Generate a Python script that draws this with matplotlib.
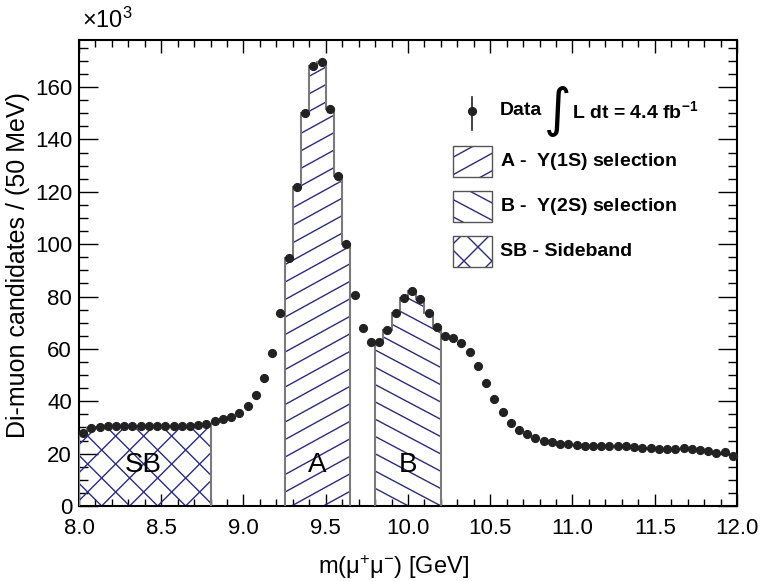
import numpy as np
import matplotlib
matplotlib.use("Agg")
import matplotlib.pyplot as plt
from matplotlib.collections import LineCollection
from matplotlib.patches import Rectangle
from matplotlib.ticker import MultipleLocator

plt.rcParams["font.family"] = ["Liberation Sans", "DejaVu Sans"]
plt.rcParams["mathtext.fontset"] = "custom"
plt.rcParams["mathtext.rm"] = "Liberation Sans"
plt.rcParams["mathtext.it"] = "Liberation Sans:italic"
plt.rcParams["mathtext.bf"] = "Liberation Sans:bold"
plt.rcParams["mathtext.default"] = "regular"

# di-muon mass spectrum, 50 MeV bins between 8 and 12 GeV, counts in units of 10^3
bin_edges = np.linspace(8.0, 12.0, 81)
counts = [
    27.8, 29.8, 30.3, 30.5, 30.6, 30.6, 30.6, 30.6, 30.6, 30.6,
    30.6, 30.5, 30.6, 30.6, 30.9, 31.5, 32.3, 33.1, 33.9, 35.4,
    38.2, 42.3, 48.7, 58.5, 73.8, 94.9, 121.9, 150.1, 168.2, 169.5,
    151.5, 126.1, 100.0, 80.4, 67.8, 62.7, 62.7, 67.2, 73.9, 79.5,
    82.2, 78.9, 73.6, 68.4, 65.0, 64.0, 62.3, 58.7, 53.5, 46.8,
    40.7, 35.8, 31.8, 29.1, 27.5, 25.8, 24.9, 24.3, 23.8, 23.5,
    23.2, 23.0, 22.9, 22.9, 23.0, 22.9, 22.8, 22.6, 22.3, 22.1,
    21.9, 21.8, 21.9, 22.0, 21.8, 21.4, 21.1, 20.4, 20.5, 19.2,
]
sb_range = (8.00, 8.80)
a_range = (9.25, 9.65)
b_range = (9.80, 10.20)

hatch_color = "#2b2b7a"
edge_color = "#7a7a7a"
dot_color = "#222222"

fig = plt.figure(figsize=(7.63, 5.81), dpi=100)
ax = fig.add_axes([0.1035, 0.1291, 0.8624, 0.8021])
pos = ax.get_position()
W = pos.width * fig.get_figwidth() * fig.dpi
H = pos.height * fig.get_figheight() * fig.dpi


def hatch(patch, slope, step, offset=0.0):
    # ROOT style hatching: straight lines laid out in pixels, clipped to the patch
    reach = abs(slope) * W
    start = offset - step * np.ceil(reach / step + 1)
    segs = []
    for b in np.arange(start, H + reach + step, step):
        segs.append([(0, b / H), (1, (b + slope * W) / H)])
    lc = LineCollection(segs, colors=hatch_color, linewidths=1.0,
                        transform=ax.transAxes, zorder=2)
    ax.add_collection(lc, autolim=False)
    lc.set_clip_path(patch.get_path(), patch.get_transform())


def region(lo, hi):
    vals = np.asarray(counts)
    sel = (bin_edges[:-1] >= lo - 1e-9) & (bin_edges[1:] <= hi + 1e-9)
    idx = np.where(sel)[0]
    edges = bin_edges[idx[0]:idx[-1] + 2]
    return ax.stairs(vals[idx], edges, baseline=0, fill=False,
                     color=edge_color, lw=1.5, zorder=3)


sb_patch = region(*sb_range)
hatch(sb_patch, 1.0, 28, 5.3)
hatch(sb_patch, -1.0, 28, 22.7)
a_patch = region(*a_range)
hatch(a_patch, 0.55, 17.5, 5.6)
b_patch = region(*b_range)
hatch(b_patch, -0.53, 17.3, 1.6)

centers = 0.5 * (bin_edges[:-1] + bin_edges[1:])
ax.plot(centers, counts, "o", ms=5.6, color=dot_color, zorder=5, clip_on=False)

ax.text(0.5 * sum(sb_range) - 0.01, 15.5, "SB", fontsize=20, ha="center", va="center", zorder=6)
ax.text(0.5 * sum(a_range), 15.5, "A", fontsize=20, ha="center", va="center", zorder=6)
ax.text(0.5 * sum(b_range), 15.5, "B", fontsize=20, ha="center", va="center", zorder=6)

ax.set_xlim(8.0, 12.0)
ax.set_ylim(0, 178)
ax.xaxis.set_major_locator(MultipleLocator(0.5))
ax.xaxis.set_minor_locator(MultipleLocator(0.1))
ax.yaxis.set_major_locator(MultipleLocator(20))
ax.yaxis.set_minor_locator(MultipleLocator(5))
ax.tick_params(which="both", direction="in", top=True, right=True, labelsize=16, width=1.0)
ax.tick_params(axis="x", which="major", length=9, pad=9)
ax.tick_params(axis="x", which="minor", length=4.7)
ax.tick_params(axis="y", which="major", length=14, pad=5)
ax.tick_params(axis="y", which="minor", length=6.5)
for s in ax.spines.values():
    s.set_linewidth(1.5)

fig.text(18 / 763, 1 - 265 / 581, "Di-muon candidates / (50 MeV)", rotation=90,
         fontsize=18, ha="center", va="center")
fig.text(393 / 763, 1 - 567 / 581, "m($μ^{+}μ^{-}$) [GeV]", fontsize=17, ha="center", va="center")
fig.text(0.107, 1 - 20 / 581, "×10$^{3}$", fontsize=17, ha="left", va="center")

# legend, drawn by hand so the hatching matches the plot
ty = 0.8483
ax.plot([0.5977, 0.5977], [0.8069, 0.8767], color=dot_color, lw=1.2, transform=ax.transAxes, zorder=6)
ax.plot([0.5977], [ty], "o", ms=5.6, color=dot_color, transform=ax.transAxes, zorder=6)
ax.text(0.640, ty, "Data", fontsize=14, fontweight="bold", ha="left", va="center", transform=ax.transAxes)
ax.text(0.728, ty, "∫", fontsize=38, ha="center", va="center", transform=ax.transAxes,
        family=["DejaVu Sans"])
ax.text(0.749, ty, "L dt = 4.4 fb$^{\\mathbf{-1}}$", fontsize=14, fontweight="bold", ha="left",
        va="center", transform=ax.transAxes)

entries = [
    ("A -  $\\Upsilon$(1S) selection", 0.7067, [(0.55, 17.5, 3.0)]),
    ("B -  $\\Upsilon$(2S) selection", 0.6101, [(-0.53, 17.3, 3.0)]),
    ("SB - Sideband", 0.5135, [(1.0, 28, 0.0), (-1.0, 28, 14.0)]),
]
for label, y0, hatches in entries:
    box = Rectangle((0.569, y0), 0.058, 0.0665, transform=ax.transAxes, fill=False,
                    edgecolor="#555555", lw=1.0, zorder=4)
    ax.add_patch(box)
    for slope, step, off in hatches:
        hatch(box, slope, step, off)
    ax.text(0.640, y0 + 0.0333, label, fontsize=14, fontweight="bold", ha="left", va="center",
            transform=ax.transAxes, math_fontfamily="stix")

fig.savefig("out.png", dpi=100)
